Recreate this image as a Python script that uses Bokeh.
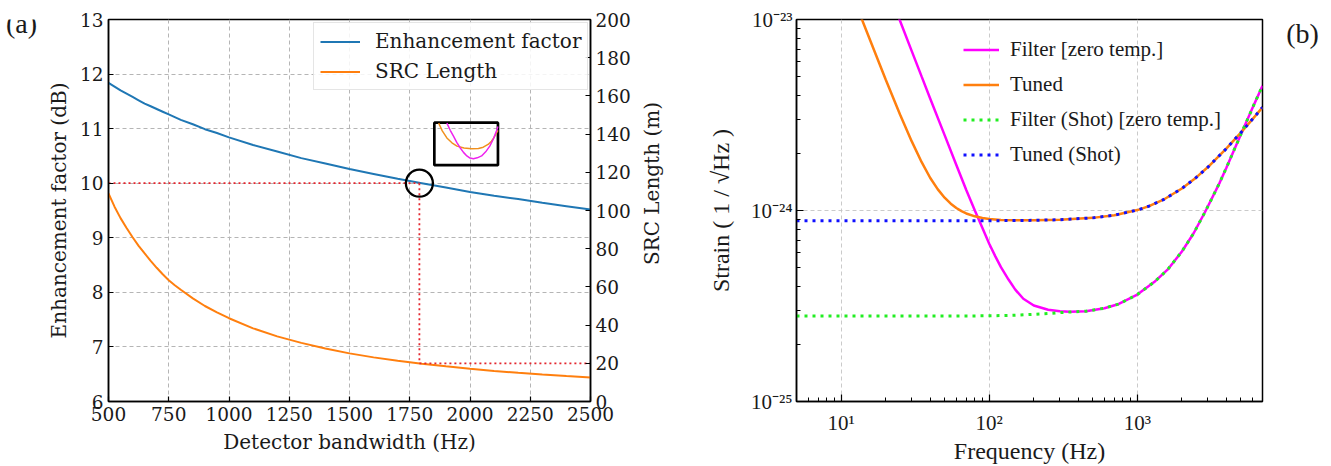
import math
from bokeh.plotting import figure
from bokeh.layouts import row
from bokeh.models import Range1d, LinearAxis, FixedTicker, CustomJSTickFormatter
from bokeh.core.properties import value
from bokeh.embed import file_html
from bokeh.resources import INLINE

# ---------------- Panel (a) data ----------------
bandwidth_hz = [500, 525, 550, 575, 600, 625, 650, 675, 700, 725, 750, 775, 800, 850, 900, 950,
                1000, 1100, 1200, 1300, 1400, 1500, 1600, 1700, 1800, 1900, 2000, 2100, 2200,
                2300, 2400, 2500]
enhancement_db = [11.84, 11.77, 11.70, 11.64, 11.58, 11.52, 11.46, 11.41, 11.36, 11.31, 11.26,
                  11.21, 11.16, 11.08, 10.99, 10.92, 10.84, 10.70, 10.58, 10.46, 10.36, 10.26,
                  10.17, 10.08, 10.00, 9.92, 9.84, 9.77, 9.71, 9.64, 9.58, 9.52]
src_length_m = [109, 102, 96, 90.8, 86, 81.5, 77.5, 73.6, 70, 66.6, 63.5, 60.9, 58.5, 54,
                50, 46.7, 43.6, 38.3, 34.1, 30.7, 27.8, 25.2, 23.1, 21.3, 19.8, 18.4, 17.1,
                16.0, 15.0, 14.1, 13.3, 12.6]
target_bw = 1790
target_db = 10
target_len = 20
bw_ticks = [500, 750, 1000, 1250, 1500, 1750, 2000, 2250, 2500]
db_ticks = [6, 7, 8, 9, 10, 11, 12, 13]
len_ticks = [0, 20, 40, 60, 80, 100, 120, 140, 160, 180, 200]

inset_box_x = [1852, 2116]
inset_box_y = [10.33, 11.11]
inset_orange_x = [1870, 1885, 1904, 1925, 1946, 1975, 2007, 2035, 2055, 2075, 2089, 2100, 2110, 2116]
inset_orange_y = [11.10, 10.96, 10.83, 10.74, 10.68, 10.645, 10.63, 10.635, 10.66, 10.71, 10.77, 10.84, 10.92, 10.97]
inset_magenta_x = [1904, 1918, 1932, 1945, 1959, 1973, 1987, 2000, 2014, 2030, 2048, 2065, 2082, 2097, 2110, 2116]
inset_magenta_y = [11.10, 10.97, 10.86, 10.75, 10.65, 10.565, 10.50, 10.46, 10.45, 10.465, 10.50, 10.575, 10.68, 10.81, 10.96, 11.04]

# ---------------- Panel (b) data ----------------
freq_filter = [20, 24.8, 30, 35, 40, 50, 60, 70, 80, 90, 100, 110, 120, 135, 150, 170, 200,
               250, 300, 350, 450, 600, 750, 1000, 1300, 1600, 2000, 2400, 2900, 3600,
               4000, 5000, 6000, 7000]
strain_filter = [1.54e-23, 1.0e-23, 6.83e-24, 5.02e-24, 3.85e-24, 2.48e-24, 1.73e-24, 1.28e-24,
                 1.0e-24, 8.1e-25, 6.7e-25, 5.75e-25, 5.05e-25, 4.35e-25, 3.85e-25, 3.45e-25,
                 3.18e-25, 3.02e-25, 2.97e-25, 2.95e-25, 2.97e-25, 3.08e-25, 3.24e-25, 3.63e-25,
                 4.22e-25, 4.9e-25, 6.1e-25, 7.6e-25, 1.0e-24, 1.40e-24, 1.68e-24, 2.50e-24,
                 3.45e-24, 4.50e-24]
freq_tuned = [13, 15, 20, 25, 30, 35, 40, 45, 50, 55, 60, 65, 70, 80, 90, 100, 120, 150, 200,
              300, 500, 700, 1000, 1200, 1500, 2000, 2500, 3000, 4000, 5000, 6000, 7000]
strain_tuned = [1.13e-23, 8.52e-24, 4.85e-24, 3.18e-24, 2.30e-24, 1.79e-24, 1.48e-24, 1.29e-24,
                1.167e-24, 1.085e-24, 1.03e-24, 9.92e-25, 9.65e-25, 9.32e-25, 9.14e-25, 9.03e-25,
                8.93e-25, 8.89e-25, 8.89e-25, 8.95e-25, 9.15e-25, 9.45e-25, 1.005e-24, 1.054e-24,
                1.139e-24, 1.304e-24, 1.49e-24, 1.689e-24, 2.113e-24, 2.557e-24, 3.01e-24, 3.47e-24]
freq_filter_shot = [5, 10, 20, 50, 100, 150, 200, 250, 300, 350, 450, 600, 750, 1000, 1300,
                    1600, 2000, 2400, 2900, 3600, 4000, 5000, 6000, 7000]
strain_filter_shot = [2.80e-25, 2.80e-25, 2.80e-25, 2.80e-25, 2.81e-25, 2.83e-25, 2.86e-25,
                      2.89e-25, 2.92e-25, 2.94e-25, 2.97e-25, 3.08e-25, 3.24e-25, 3.63e-25,
                      4.22e-25, 4.9e-25, 6.1e-25, 7.6e-25, 1.0e-24, 1.40e-24, 1.68e-24,
                      2.50e-24, 3.45e-24, 4.50e-24]
freq_tuned_shot = [5, 10, 20, 50, 100, 200, 300, 500, 700, 1000, 1200, 1500, 2000, 2500, 3000,
                   4000, 5000, 6000, 7000]
strain_tuned_shot = [8.83e-25, 8.83e-25, 8.83e-25, 8.84e-25, 8.84e-25, 8.88e-25, 8.95e-25,
                     9.15e-25, 9.45e-25, 1.005e-24, 1.054e-24, 1.139e-24, 1.304e-24, 1.49e-24,
                     1.689e-24, 2.113e-24, 2.557e-24, 3.01e-24, 3.47e-24]
freq_ticks = [10, 100, 1000]
freq_minor = [m * 10 ** e for e in range(0, 4) for m in range(2, 10)]
strain_ticks = [1e-25, 1e-24, 1e-23]
strain_minor = [m * 10.0 ** e for e in (-25, -24) for m in range(2, 10)]

SERIF_A = "DejaVu Serif"
SERIF_B = "Liberation Serif"
H = 466
TOP_A = 19   # frame top of panel (a)
TOP_B = 16   # frame top of panel (b)


def text_panel(width, top, label, x, y_from_top, size, font, angle=0.0):
    """A bare figure that only holds one piece of text (panel tags, rotated axis title).
    Its frame starts at `top` (like its neighbour), so the y range spans H - top pixels."""
    f = figure(width=width, height=H, x_range=Range1d(0, width), y_range=Range1d(0, H - top),
               output_backend="svg", toolbar_location=None, title=None,
               x_axis_location=None, y_axis_location=None,
               min_border_left=0, min_border_right=0, min_border_top=top, min_border_bottom=0)
    f.grid.visible = False
    f.outline_line_color = None
    f.text(x=[x], y=[H - y_from_top], text=[label], text_font=value(font),
           text_font_size=size, text_align="center", text_baseline="middle",
           text_color="#1a1a1a", angle=angle)
    return f


# ================= Panel (a) =================
p1 = figure(width=592, height=H, x_range=Range1d(500, 2500), y_range=Range1d(6, 13),
            output_backend="svg", toolbar_location=None, title=None,
            min_border_left=60, min_border_right=45, min_border_top=TOP_A, min_border_bottom=62)
p1.extra_y_ranges = {"src": Range1d(0, 200)}
right_axis = LinearAxis(y_range_name="src")
p1.add_layout(right_axis, "right")

p1.xaxis.ticker = FixedTicker(ticks=bw_ticks)
p1.yaxis[0].ticker = FixedTicker(ticks=db_ticks)
right_axis.ticker = FixedTicker(ticks=len_ticks)
p1.xaxis.axis_label = "Detector bandwidth (Hz)"
p1.yaxis[0].axis_label = "Enhancement factor (dB)"

for ax in [p1.xaxis[0], p1.yaxis[0], right_axis]:
    ax.major_tick_in = 5
    ax.major_tick_out = 0
    ax.minor_tick_line_color = None
    ax.major_tick_line_width = 1.2
    ax.axis_line_width = 1.5
    ax.major_label_text_font = SERIF_A
    ax.major_label_text_font_size = "18.5px"
    ax.major_label_text_color = "#1a1a1a"
    ax.axis_label_text_font = SERIF_A
    ax.axis_label_text_font_size = "20px"
    ax.axis_label_text_font_style = "normal"
    ax.axis_label_text_color = "#1a1a1a"
    ax.axis_label_standoff = 6

p1.outline_line_color = "black"
p1.outline_line_width = 1.5
p1.outline_line_alpha = 1
for g in [p1.xgrid[0], p1.ygrid[0]]:
    g.grid_line_color = "#b5b5b5"
    g.grid_line_dash = "4 3"
    g.grid_line_width = 1

p1.line(bandwidth_hz, enhancement_db, line_color="#1f77b4", line_width=2,
        legend_label="Enhancement factor")
p1.line(bandwidth_hz, src_length_m, line_color="#ff7f0e", line_width=2,
        y_range_name="src", legend_label="SRC Length")

len_at_target_db = (target_db - 6) * 200 / (13 - 6)
p1.line([bandwidth_hz[0], target_bw], [target_db, target_db], line_color="#e4252d",
        line_width=1.8, line_dash="2 3")
p1.line([target_bw, target_bw], [len_at_target_db, target_len], line_color="#e4252d",
        line_width=1.8, line_dash="2 3", y_range_name="src")
p1.line([target_bw, bandwidth_hz[-1]], [target_len, target_len], line_color="#e4252d",
        line_width=1.8, line_dash="2 3", y_range_name="src")
p1.scatter([target_bw], [target_db], marker="circle", size=27, fill_color=None,
           line_color="black", line_width=2.3)

p1.quad(left=[inset_box_x[0]], right=[inset_box_x[1]], bottom=[inset_box_y[0]],
        top=[inset_box_y[1]], fill_color=None, line_color="black", line_width=2.7)
p1.line(inset_orange_x, inset_orange_y, line_color="#f0901e", line_width=1.5)
p1.line(inset_magenta_x, inset_magenta_y, line_color="#ee22ee", line_width=1.5)

lg1 = p1.legend[0]
lg1.location = (205, 311)
lg1.label_text_font = SERIF_A
lg1.label_text_font_size = "20px"
lg1.label_text_color = "#1a1a1a"
lg1.glyph_width = 40
lg1.glyph_height = 23
lg1.label_height = 23
lg1.label_standoff = 15
lg1.padding = 6
lg1.spacing = 6
lg1.border_line_color = "#cccccc"
lg1.border_line_width = 1
lg1.background_fill_alpha = 0.85

# ================= Panel (b) =================
p2 = figure(width=602, height=H, x_axis_type="log", y_axis_type="log",
            x_range=Range1d(5, 7000), y_range=Range1d(1e-25, 1e-23),
            output_backend="svg", toolbar_location=None, title=None,
            min_border_left=128, min_border_right=8, min_border_top=TOP_B, min_border_bottom=60)

sup_code = """
const sup = {"0":"\u2070","1":"\u00b9","2":"\u00b2","3":"\u00b3","4":"\u2074","5":"\u2075",
             "6":"\u2076","7":"\u2077","8":"\u2078","9":"\u2079","-":"\u207b"};
const e = Math.round(Math.log10(tick)).toString();
return "10" + e.split("").map(c => sup[c]).join("");
"""
p2.xaxis.ticker = FixedTicker(ticks=freq_ticks, minor_ticks=freq_minor)
p2.yaxis.ticker = FixedTicker(ticks=strain_ticks, minor_ticks=strain_minor)
p2.xaxis.formatter = CustomJSTickFormatter(code=sup_code)
p2.yaxis.formatter = CustomJSTickFormatter(code=sup_code)
p2.xaxis.axis_label = "Frequency (Hz)"
p2.yaxis.axis_label = "Strain ( 1 / \u221aHz )"

for ax in [p2.xaxis[0], p2.yaxis[0]]:
    ax.major_tick_in = 7
    ax.major_tick_out = 0
    ax.minor_tick_in = 4
    ax.minor_tick_out = 0
    ax.major_tick_line_width = 1.2
    ax.minor_tick_line_width = 1
    ax.axis_line_width = 1.5
    ax.major_label_text_font = SERIF_B
    ax.major_label_text_font_size = "21px"
    ax.major_label_text_color = "#1a1a1a"
    ax.major_label_standoff = 4
    ax.axis_label_text_font = SERIF_B
    ax.axis_label_text_font_style = "normal"
    ax.axis_label_text_color = "#1a1a1a"
    ax.axis_label_text_font_size = "24px"
p2.xaxis.major_label_standoff = 9
p2.xaxis.axis_label_standoff = 0
p2.yaxis.axis_label_standoff = 14

p2.outline_line_color = "black"
p2.outline_line_width = 1.5
p2.outline_line_alpha = 1
for g in [p2.xgrid[0], p2.ygrid[0]]:
    g.grid_line_color = "#c4c4c4"
    g.grid_line_dash = "4 3"
    g.grid_line_width = 0.9

p2.line(freq_filter, strain_filter, line_color="#ff00ff", line_width=2.5,
        legend_label="Filter [zero temp.]")
p2.line(freq_tuned, strain_tuned, line_color="#ff7f0e", line_width=2.5,
        legend_label="Tuned")
p2.line(freq_filter_shot, strain_filter_shot, line_color="#22ee22", line_width=3,
        line_dash="3 5", legend_label="Filter (Shot) [zero temp.]")
p2.line(freq_tuned_shot, strain_tuned_shot, line_color="#1010ff", line_width=3,
        line_dash="3 5", legend_label="Tuned (Shot)")

lg2 = p2.legend[0]
lg2.location = (167, 234)
lg2.label_text_font = SERIF_B
lg2.label_text_font_size = "21px"
lg2.label_text_color = "#1a1a1a"
lg2.glyph_width = 36
lg2.glyph_height = 25
lg2.label_height = 25
lg2.label_standoff = 11
lg2.padding = 0
lg2.spacing = 10
lg2.border_line_color = None
lg2.background_fill_alpha = 0

# ---------------- text-only strips ----------------
tag_a = text_panel(43, TOP_A, "(a)", 21, 24, "28px", SERIF_B)
src_title = text_panel(33, TOP_A, "SRC Length (m)", 16, 211, "20px", SERIF_A, angle=math.pi / 2)
tag_b = text_panel(62, TOP_B, "(b)", 32, 32, "28px", SERIF_B)

layout = row(tag_a, p1, src_title, p2, tag_b)
with open("out.html", "w", encoding="utf-8") as f:
    f.write(file_html(layout, INLINE))
